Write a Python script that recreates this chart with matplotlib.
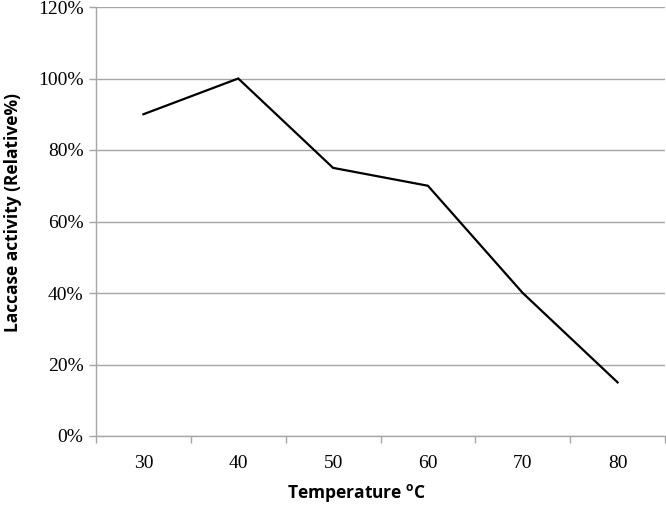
import matplotlib
matplotlib.use("Agg")
import matplotlib.pyplot as plt
from matplotlib.ticker import FuncFormatter, MultipleLocator, FixedLocator

plt.rcParams["mathtext.fontset"] = "custom"
plt.rcParams["mathtext.bf"] = "Open Sans:bold"
plt.rcParams["mathtext.rm"] = "Open Sans:bold"

categories = ["30", "40", "50", "60", "70", "80"]
activity = [90, 100, 75, 70, 40, 15]

fig = plt.figure(figsize=(6.66, 5.05), dpi=100)
L, R, B, T = 96, 665, 436, 7
ax = fig.add_axes([L/666, (505-B)/505, (R-L)/666, (B-T)/505])

x = list(range(len(categories)))
ax.plot(x, activity, color="black", linewidth=1.6, solid_joinstyle="miter")

ax.set_xlim(-0.5, len(categories) - 0.5)
ax.set_ylim(0, 120)
ax.yaxis.set_major_locator(MultipleLocator(20))
ax.yaxis.set_major_formatter(FuncFormatter(lambda v, p: f"{int(v)}%"))
ax.grid(axis="y", color="#a6a6a6", linewidth=1)
ax.set_axisbelow(True)

ax.set_xticks(x)
ax.set_xticklabels(categories)
ax.xaxis.set_minor_locator(FixedLocator([i - 0.5 for i in range(len(categories) + 1)]))
ax.tick_params(axis="x", which="major", length=0, pad=14)
ax.tick_params(axis="x", which="minor", length=5, color="#a6a6a6", width=1)
ax.tick_params(axis="y", length=5, color="#a6a6a6", width=1, pad=4)

for lab in ax.get_xticklabels() + ax.get_yticklabels():
    lab.set_fontfamily("Liberation Serif")
    lab.set_fontsize(14)

for s in ["top", "right"]:
    ax.spines[s].set_visible(False)
for s in ["left", "bottom"]:
    ax.spines[s].set_color("#a6a6a6")
    ax.spines[s].set_linewidth(1)

ax.set_xlabel(r"Temperature $^{\mathbf{o}}$C", fontsize=12.5, fontweight="bold", family="Open Sans")
ax.set_ylabel("Laccase activity (Relative%)", fontsize=12.5, fontweight="bold", family="Open Sans")
ax.xaxis.set_label_coords((357 - L) / (R - L), (B - 493) / (B - T), transform=ax.transAxes)
ax.yaxis.set_label_coords((13 - L) / (R - L), (B - 213) / (B - T), transform=ax.transAxes)
ax.xaxis.label.set_va("center")
ax.yaxis.label.set_va("center")

fig.savefig("out.png", dpi=100)
